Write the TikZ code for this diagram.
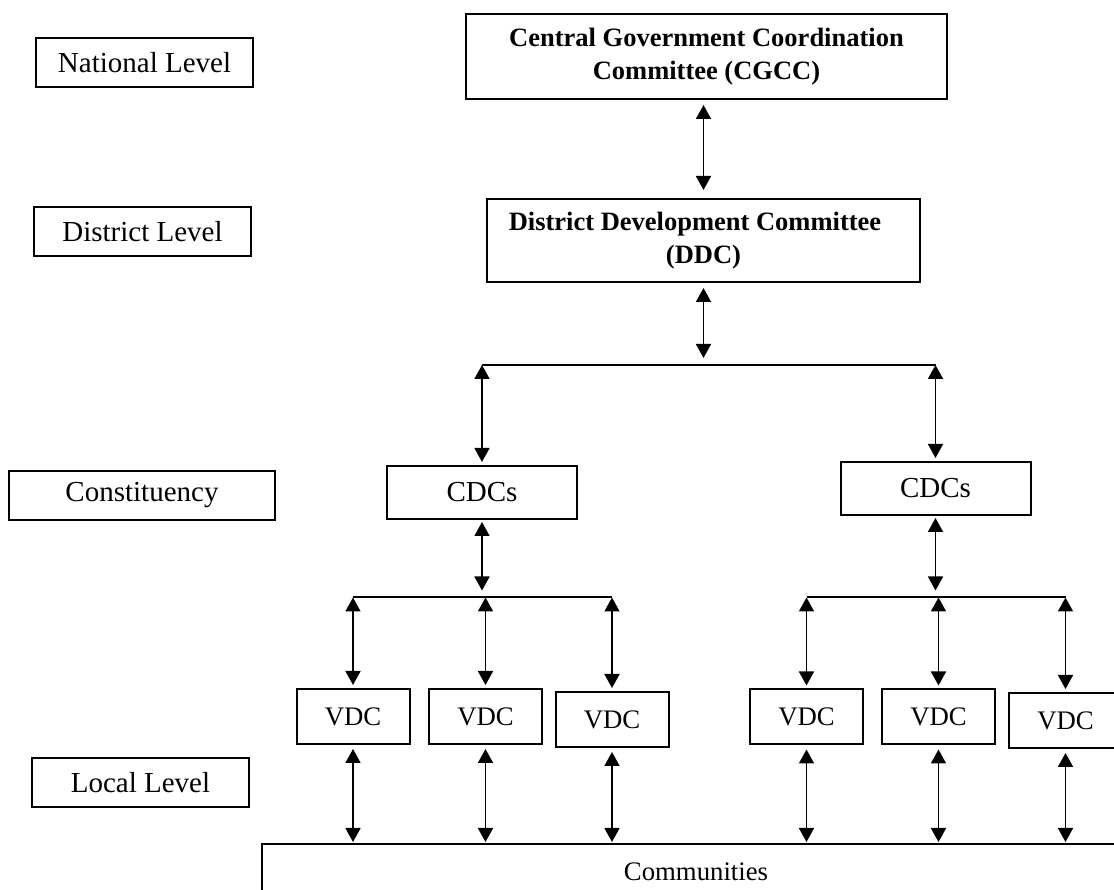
\documentclass[tikz,border=0pt]{standalone}
\usepackage{fontspec}
\setmainfont{Liberation Serif}
\usetikzlibrary{arrows.meta}
\tikzset{>={Triangle[length=5.6pt,width=6pt]}}
\tikzset{
  box/.style={draw, line width=0.8pt, inner sep=0pt, outer sep=0pt, align=center},
  lvlbox/.style={box, minimum width=86.8pt, minimum height=19.6pt, font=\fontsize{11.6}{14}\selectfont},
  topbox/.style={box, font=\fontsize{10.6}{13}\selectfont\bfseries},
  cdcbox/.style={box, minimum width=76pt, minimum height=21.2pt, font=\fontsize{11.6}{14}\selectfont},
  vdcbox/.style={box, minimum width=45.2pt, minimum height=22pt, font=\fontsize{10.7}{13}\selectfont},
  link/.style={<->, line width=0.7pt},
  bus/.style={line width=0.8pt}
}

\begin{document}
\begin{tikzpicture}[x=0.4pt, y=-0.4pt]
    \useasboundingbox (0,0) rectangle (1114,890);
    \clip (0,0) rectangle (1114,890);
    % levels on the left
    \node [lvlbox] (natl) at (144.5,63) {National Level};
    \node [lvlbox] (dist) at (142.5,231.5) {District Level};
    \node [lvlbox, minimum width=106.4pt] (cons) at (142,495.5) {Constituency};
    \node [lvlbox] (locl) at (140.5,782.5) {Local Level};
    % committees
    \node [topbox, minimum width=192.4pt, minimum height=34pt] (cgcc) at (706.5,56.5) {Central Government Coordination\\Committee (CGCC)};
    \node [topbox, minimum width=173.2pt, minimum height=33.2pt] (ddc) at (703.5,240.5) {District Development Committee\hspace*{6.8pt}\\(DDC)};
    \node [cdcbox] (cdcl) at (482,492.5) {CDCs};
    \node [cdcbox] (cdcr) at (935.5,488.5) {CDCs};
    \node [vdcbox] (vdcl1) at (353,716.5) {VDC};
    \node [vdcbox] (vdcl2) at (485.5,716.5) {VDC};
    \node [vdcbox] (vdcl3) at (612,719.5) {VDC};
    \node [vdcbox] (vdcr1) at (806.5,717) {VDC};
    \node [vdcbox] (vdcr2) at (938.5,717) {VDC};
    \node [vdcbox] (vdcr3) at (1065.5,720.5) {VDC};
    \node [box, minimum width=347.2pt, minimum height=22.4pt, font=\fontsize{10.7}{13}\selectfont] (comm) at (696,872) {Communities};
    % bus lines
    \coordinate (bus1) at (0,365);
    \coordinate (bus2) at (0,597.5);
    \draw [link, shorten <=2.4pt, shorten >=3.6pt] (ddc.north |- cgcc.south) -- (ddc.north);
    \draw [link, shorten <=2.4pt, shorten >=2.8pt] (ddc.south) -- (ddc.south |- bus1);
    \draw [bus] (cdcl.north |- bus1) -- (cdcr.north |- bus1);
    \draw [link, shorten >=1.6pt] (cdcl.north |- bus1) -- (cdcl.north);
    \draw [link, shorten >=1.6pt] (cdcr.north |- bus1) -- (cdcr.north);
    \draw [link, shorten <=1.2pt, shorten >=2.8pt] (cdcl.south) -- (cdcl.south |- bus2);
    \draw [link, shorten <=1.2pt, shorten >=2.8pt] (cdcr.south) -- (cdcr.south |- bus2);
    \draw [bus] (vdcl1.north |- bus2) -- (vdcl3.north |- bus2);
    \draw [bus] (vdcr1.north |- bus2) -- (vdcr3.north |- bus2);
    \foreach \v in {vdcl1,vdcl2,vdcl3,vdcr1,vdcr2,vdcr3} {
        \draw [link, shorten >=1.6pt] (\v.north |- bus2) -- (\v.north);
        \draw [link, shorten <=2pt, shorten >=0.8pt] (\v.south) -- (\v.south |- comm.north);
    }
\end{tikzpicture}
\end{document}
